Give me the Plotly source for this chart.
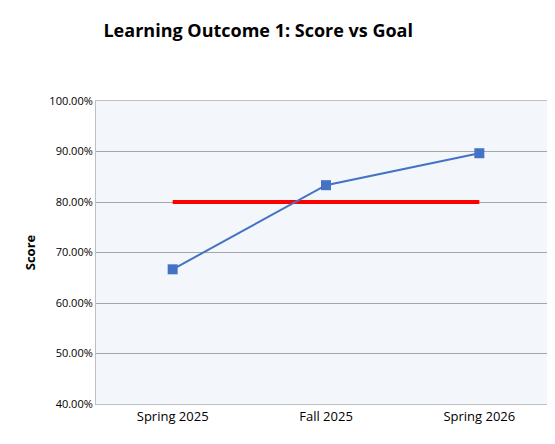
import plotly.graph_objects as go

categories = ["Spring 2025", "Fall 2025", "Spring 2026"]
scores = [0.6667, 0.8333, 0.8966]
goal = [0.80, 0.80, 0.80]

fig = go.Figure()
fig.add_trace(go.Scatter(x=categories, y=goal, mode="lines",
                         line=dict(color="#FF0000", width=4), name="Goal"))
fig.add_trace(go.Scatter(x=categories, y=scores, mode="lines+markers",
                         line=dict(color="#4472C4", width=2),
                         marker=dict(symbol="square", size=10, color="#4472C4"),
                         name="Score"))
fig.update_layout(
    width=555, height=444, showlegend=False,
    margin=dict(l=88, r=7, t=93, b=48, autoexpand=False),
    paper_bgcolor="white", plot_bgcolor="#F3F6FA",
    font=dict(family="Open Sans, Liberation Sans, sans-serif", size=12, color="#000"),
    title=dict(text="<b>Learning Outcome 1: Score vs Goal</b>", x=0.172, xanchor="left",
               y=0.95, yanchor="middle", font=dict(size=18, color="#000")),
    xaxis=dict(showgrid=False, showline=True, linecolor="#BFBFBF", mirror=True,
               range=[-0.5, 2.5], ticks="", tickfont=dict(size=13), automargin=False),
    yaxis=dict(range=[0.4, 1.0], dtick=0.1, tickformat=".2%", gridcolor="#A6A6A6",
               showline=True, linecolor="#BFBFBF", mirror=True, tickfont=dict(size=11),
               automargin=False,
               title=dict(text="<b>Score</b>", font=dict(size=13), standoff=10)),
)
fig.write_html("out.html")
